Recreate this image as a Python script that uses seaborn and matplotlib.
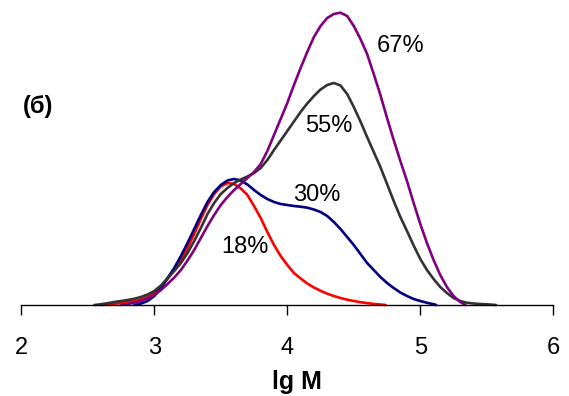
import matplotlib
matplotlib.use("Agg")
import matplotlib.pyplot as plt
import seaborn as sns
import pandas as pd

# Data (x = lg M, y = curve height, arbitrary units)
red_x = [2.60, 2.65, 2.70, 2.75, 2.80, 2.85, 2.90, 2.95, 3.00, 3.05, 3.10, 3.15, 3.20, 3.25,
         3.30, 3.35, 3.40, 3.45, 3.50, 3.55, 3.60, 3.65, 3.70, 3.75, 3.80, 3.85, 3.90, 3.95,
         4.00, 4.05, 4.10, 4.15, 4.20, 4.25, 4.30, 4.35, 4.40, 4.45, 4.50, 4.55, 4.60, 4.65,
         4.70, 4.74]
red_y = [0, 0.5, 1.2, 2, 3, 4, 5.5, 8, 12, 18, 26, 35, 45, 57,
         71, 86, 100, 111, 118.5, 122, 121, 116.5, 110, 99, 87, 73, 60, 49,
         40, 32, 26.5, 21.5, 17.5, 14.2, 11.3, 9, 7, 5.3, 4, 2.8, 1.9, 1.1,
         0.5, 0]

navy_x = [2.85, 2.90, 2.95, 3.00, 3.05, 3.10, 3.15, 3.20, 3.25, 3.30, 3.35, 3.40, 3.45, 3.50,
          3.55, 3.60, 3.65, 3.70, 3.75, 3.80, 3.85, 3.90, 3.95, 4.00, 4.05, 4.10, 4.15, 4.20,
          4.25, 4.30, 4.35, 4.40, 4.45, 4.50, 4.55, 4.60, 4.65, 4.70, 4.75, 4.80, 4.85, 4.90,
          4.95, 5.00, 5.05, 5.10, 5.12]
navy_y = [0, 1.5, 4, 9, 17, 27, 37, 49, 62, 76, 90, 103, 113, 120,
          124.5, 126, 124.5, 120.5, 115, 110, 106, 103, 101, 100, 99, 98.3, 97.3, 95.5,
          93, 89, 83, 76, 68, 60, 51, 42, 35, 28, 22, 17, 12.5, 9,
          6, 4, 2.2, 0.8, 0]

gray_x = [2.55, 2.60, 2.65, 2.70, 2.75, 2.80, 2.85, 2.90, 2.95, 3.00, 3.05, 3.10, 3.15, 3.20,
          3.25, 3.30, 3.35, 3.40, 3.45, 3.50, 3.55, 3.60, 3.65, 3.70, 3.75, 3.80, 3.85, 3.90,
          3.95, 4.00, 4.05, 4.10, 4.15, 4.20, 4.25, 4.30, 4.35, 4.40, 4.45, 4.50, 4.55, 4.60,
          4.65, 4.70, 4.75, 4.80, 4.85, 4.90, 4.95, 5.00, 5.05, 5.10, 5.15, 5.20, 5.25, 5.30,
          5.35, 5.40, 5.45, 5.50, 5.57]
gray_y = [0, 0.8, 1.8, 3, 4, 5, 6.3, 8, 10.5, 14, 19.5, 27, 34, 42,
          52, 64, 77, 91, 102, 111, 117, 122, 125.5, 128.5, 132, 137, 145, 155,
          164.5, 174, 183.5, 193, 201.5, 209, 215.5, 220, 222, 219.5, 211, 198, 183.5, 168,
          153, 138, 121, 104, 88, 74, 59.5, 46, 35, 26, 18, 12, 7, 4,
          2.3, 1.5, 1, 0.7, 0]

purple_x = [2.75, 2.80, 2.85, 2.90, 2.95, 3.00, 3.05, 3.10, 3.15, 3.20, 3.25, 3.30, 3.35, 3.40,
            3.45, 3.50, 3.55, 3.60, 3.65, 3.70, 3.75, 3.80, 3.85, 3.90, 3.95, 4.00, 4.05, 4.10,
            4.15, 4.20, 4.25, 4.30, 4.35, 4.40, 4.45, 4.50, 4.55, 4.60, 4.65, 4.70, 4.75, 4.80,
            4.85, 4.90, 4.95, 5.00, 5.05, 5.10, 5.15, 5.20, 5.25, 5.30, 5.34]
purple_y = [0, 1, 2.3, 4, 6.5, 10, 15, 21, 27.5, 35, 44.5, 55, 67, 79,
            90, 100, 108, 115, 121, 127, 133, 141, 154, 170, 186, 202, 220, 237,
            253, 268, 279, 287, 291, 292.3, 289, 279, 266, 251, 231, 210, 187, 165,
            144, 124, 102, 81, 62, 45, 30, 18, 9, 3, 0]

series_names = ["18%", "30%", "55%", "67%"]
series_colors = ["#FF0000", "#000080", "#333333", "#800080"]

x_ticks = [2, 3, 4, 5, 6]
x_label = "lg M"
panel_label = "(б)"

# Label positions (lg M, height)
label_pos = {"67%": (4.85, 259), "55%": (4.31, 179), "30%": (4.22, 110), "18%": (3.68, 58)}

frames = []
for name, xs, ys in zip(series_names, [red_x, navy_x, gray_x, purple_x],
                        [red_y, navy_y, gray_y, purple_y]):
    frames.append(pd.DataFrame({"lgM": xs, "w": ys, "series": name}))
df = pd.concat(frames, ignore_index=True)

sns.set_style("white")
plt.rcParams["font.family"] = ["Liberation Sans", "DejaVu Sans"]

fig = plt.figure(figsize=(5.69, 3.96), dpi=100)
ax = fig.add_axes([21.3 / 569, (396 - 305) / 396, (553.3 - 21.3) / 569, 300 / 396])

sns.lineplot(data=df, x="lgM", y="w", hue="series", hue_order=series_names,
             palette=dict(zip(series_names, series_colors)), estimator=None,
             sort=False, linewidth=1.9, legend=False, ax=ax)
for line in ax.get_lines():
    line.set_clip_on(False)
    line.set_solid_joinstyle("round")
    line.set_solid_capstyle("round")

ax.set_xlim(2, 6)
ax.set_ylim(0, 300)
ax.set_xticks(x_ticks)
ax.set_xticklabels([str(t) for t in x_ticks])
ax.set_yticks([])
ax.set_ylabel("")
for s in ["top", "right", "left"]:
    ax.spines[s].set_visible(False)
ax.spines["bottom"].set_color("black")
ax.spines["bottom"].set_linewidth(1.0)
ax.tick_params(axis="x", direction="out", length=7, width=1, color="black",
               pad=16, labelsize=17, labelcolor="black", bottom=True)

ax.set_xlabel(x_label, fontsize=18, fontweight="bold", color="black")
ax.xaxis.set_label_coords(0.519, -0.215)

for name in series_names:
    lx, ly = label_pos[name]
    ax.text(lx, ly, name, fontsize=17, color="black", ha="center", va="center")

ax.text(2.126, 199, panel_label, fontsize=17, fontweight="bold", color="black",
        ha="center", va="center")

fig.savefig("out.png", dpi=100)
